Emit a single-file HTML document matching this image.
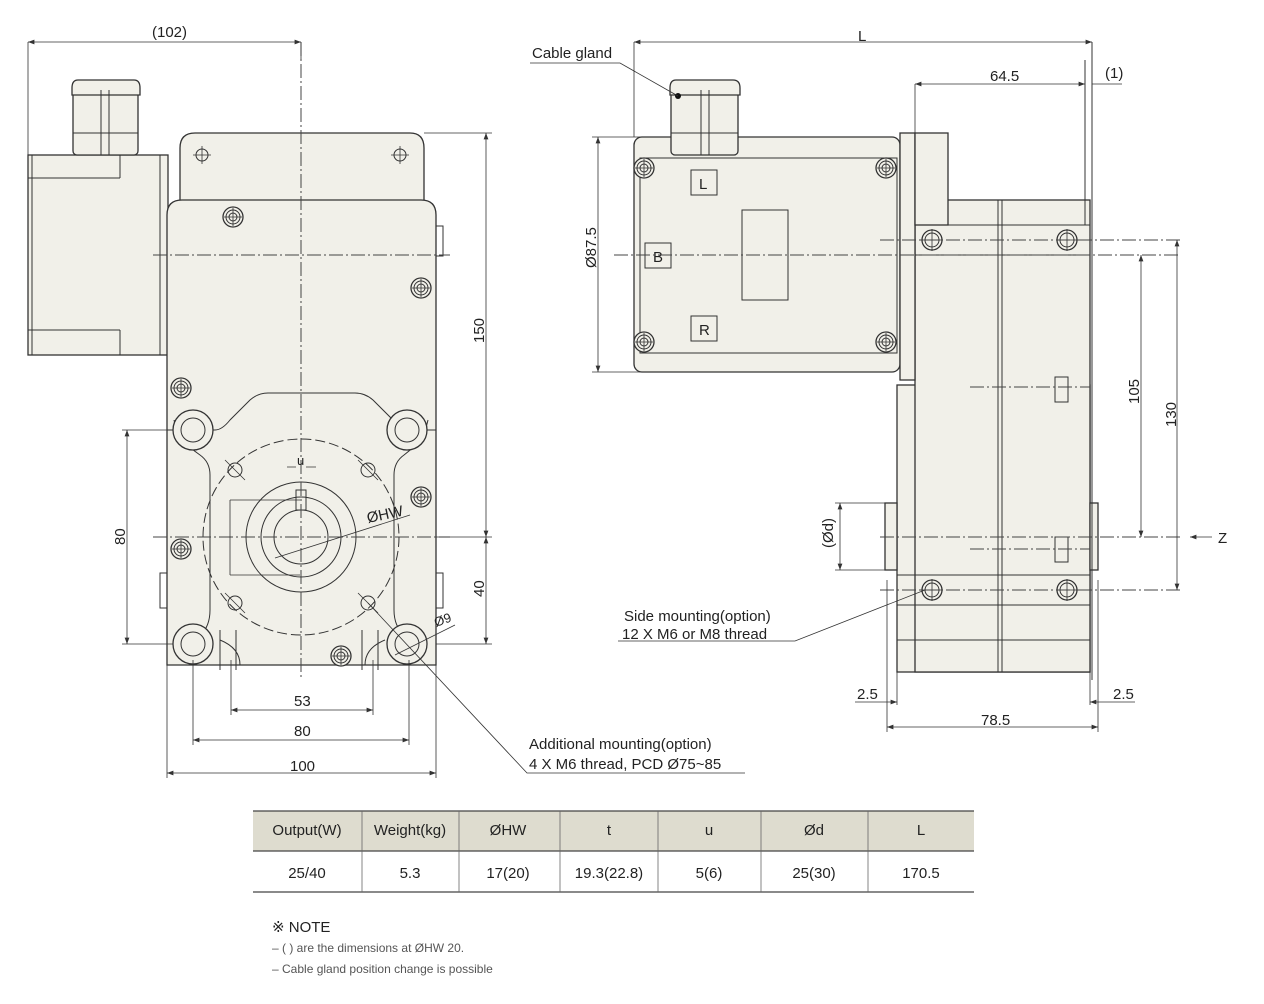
<!DOCTYPE html>
<html><head><meta charset="utf-8"><style>
body{margin:0;background:#fff;}
svg{display:block;font-family:"Liberation Sans",sans-serif;}
.o{fill:#f1f0e9;stroke:#333;stroke-width:1.3}
.l{stroke:#333;stroke-width:1;fill:none}
.c{stroke:#444;stroke-width:1;fill:none;stroke-dasharray:14 3 2 3}
.d{stroke:#333;stroke-width:.8;fill:none}
text{fill:#222;font-size:15px}
.t{font-size:15px}
</style></head><body>
<svg width="1264" height="1004" viewBox="0 0 1264 1004">
<defs>
<marker id="a" markerWidth="8" markerHeight="6" refX="8" refY="3" orient="auto-start-reverse"><path d="M0,0L8,3L0,6z" fill="#333"/></marker>
<g id="bolt"><circle r="10" class="o"/><circle r="7" class="l"/><circle r="4" class="l"/><path d="M-9,0H9M0,-9V9" class="d"/></g>
<g id="mh"><circle r="20" class="o"/><circle r="12" class="l"/></g>
<g id="sh"><circle r="7" class="l"/><path d="M-10,-10L10,10" class="d"/></g>
<g id="rh"><circle r="10" class="o"/><circle r="7" class="l"/><path d="M-11,0H11M0,-11V11" class="d"/></g>
</defs>

<!-- LEFT VIEW -->
<rect x="28" y="155" width="140" height="200" class="o"/>
<path d="M28,178H120M28,330H120M120,155V178M120,330V355M32,155V355M160,155V355" class="l"/>
<rect x="73" y="90" width="65" height="65" rx="4" class="o"/>
<path d="M78,80H134Q140,80 140,88V95H72V88Q72,80 78,80z" class="o"/>
<path d="M73,133H138M101,90V155M109,90V155" class="l"/>
<path d="M180,210V148Q180,133 195,133H410Q424,133 424,148V210z" class="o"/>
<path d="M167,665V215Q167,200 182,200H421Q436,200 436,215V665z" class="o"/>
<path d="M167,430H215Q222,430 230,420L250,400Q258,393 268,393H355Q365,393 373,400L395,422Q402,430 410,430H436" class="l"/>
<path d="M174,420Q178,440 200,455Q210,462 210,475V610Q210,630 195,640M428,420Q424,440 404,455Q394,462 394,475V610Q394,630 410,640" class="l"/>
<path d="M240,665Q240,648 220,640M365,665Q365,648 385,640" class="l"/>
<use href="#mh" x="193" y="430"/><use href="#mh" x="407" y="430"/><use href="#mh" x="193" y="644"/><use href="#mh" x="407" y="644"/>
<use href="#bolt" x="233" y="217"/><use href="#bolt" x="421" y="288"/><use href="#bolt" x="181" y="388"/><use href="#bolt" x="421" y="497"/><use href="#bolt" x="181" y="549"/><use href="#bolt" x="341" y="656"/>
<circle cx="301" cy="537" r="98" class="l" stroke-dasharray="10 4"/>
<circle cx="301" cy="537" r="55" class="l"/>
<circle cx="301" cy="537" r="40" class="l" stroke-width="2"/>
<path d="M274,537A27,27 0 1 0 328,537A27,27 0 1 0 274,537" class="l"/>
<rect x="296" y="490" width="10" height="20" class="l"/>
<use href="#sh" x="235" y="470"/><use href="#sh" x="368" y="470"/><use href="#sh" x="235" y="603"/><use href="#sh" x="368" y="603"/>
<circle cx="202" cy="155" r="6" class="l"/><path d="M193,155H211M202,146V164" class="d"/>
<circle cx="400" cy="155" r="6" class="l"/><path d="M391,155H409M400,146V164" class="d"/>
<rect x="160" y="573" width="7" height="35" class="l"/><rect x="436" y="573" width="7" height="35" class="l"/><rect x="436" y="226" width="7" height="30" class="l"/>
<path d="M301,42V680M153,255H450M153,537H450" class="c"/>
<path d="M220,630v40M236,630v40M362,630v40M378,630v40" class="l"/>
<!-- left dims -->
<path d="M28,42V155M301,42V60" class="d"/><path d="M28,42H301" class="d" marker-start="url(#a)" marker-end="url(#a)"/>
<text x="152" y="37">(102)</text>
<path d="M424,133H492M436,537H492M436,644H492" class="d"/>
<path d="M486,133V537" class="d" marker-start="url(#a)" marker-end="url(#a)"/><path d="M486,537V644" class="d" marker-start="url(#a)" marker-end="url(#a)"/>
<text transform="translate(484,343) rotate(-90)">150</text><text transform="translate(484,597) rotate(-90)">40</text>
<path d="M122,430H173M122,644H173" class="d"/><path d="M127,430V644" class="d" marker-start="url(#a)" marker-end="url(#a)"/>
<text transform="translate(125,545) rotate(-90)">80</text>
<path d="M231,660V715M373,660V715M193,660V745M409,660V745M167,665V778M436,665V778" class="d"/>
<path d="M231,710H373" class="d" marker-start="url(#a)" marker-end="url(#a)"/><text x="294" y="706">53</text>
<path d="M193,740H409" class="d" marker-start="url(#a)" marker-end="url(#a)"/><text x="294" y="736">80</text>
<path d="M167,773H436" class="d" marker-start="url(#a)" marker-end="url(#a)"/><text x="290" y="771">100</text>
<path d="M230,500V575M230,500H300M230,575H300" class="d"/>
<path d="M275,558L410,515" class="d"/><text x="368" y="523" transform="rotate(-12 368 523)">ØHW</text>
<path d="M287,467H296M306,467H316" class="d"/><text x="297" y="465" style="font-size:13px">u</text>
<path d="M395,655L455,625" class="d"/><text x="436" y="627" style="font-size:13px" transform="rotate(-20 436 627)">Ø9</text>
<path d="M368,603L527,773H745" class="d"/>
<text x="529" y="749">Additional mounting(option)</text><text x="529" y="769">4 X M6 thread, PCD Ø75~85</text>

<!-- RIGHT VIEW -->
<rect x="634" y="137" width="266" height="235" rx="8" class="o"/>
<rect x="640" y="158" width="257" height="195" class="l"/>
<rect x="671" y="90" width="67" height="65" rx="4" class="o"/>
<path d="M676,80H733Q740,80 740,88V95H670V88Q670,80 676,80z" class="o"/>
<path d="M671,133H738M701,90V155M709,90V155" class="l"/>
<circle cx="678" cy="96" r="3" fill="#111"/>
<use href="#bolt" x="644" y="168"/><use href="#bolt" x="886" y="168"/><use href="#bolt" x="644" y="342"/><use href="#bolt" x="886" y="342"/>
<rect x="691" y="170" width="26" height="25" class="l"/><text x="699" y="189">L</text>
<rect x="645" y="243" width="26" height="25" class="l"/><text x="653" y="262">B</text>
<rect x="691" y="316" width="26" height="25" class="l"/><text x="699" y="335">R</text>
<rect x="742" y="210" width="46" height="90" class="l" stroke-width="1.6"/>
<rect x="897" y="385" width="193" height="287" class="o"/>
<rect x="915" y="200" width="175" height="472" class="o"/>
<rect x="900" y="133" width="15" height="247" class="o"/>
<rect x="915" y="133" width="33" height="92" class="o"/>
<path d="M915,225H1090M915,255H1090M897,575H1090M897,605H1090M897,640H1090" class="l"/>
<path d="M998,200V672M1002,200V672" class="l"/>
<rect x="885" y="503" width="12" height="67" class="o"/><rect x="1090" y="503" width="8" height="67" class="o"/>
<rect x="1055" y="377" width="13" height="25" class="l"/><rect x="1055" y="537" width="13" height="25" class="l"/>
<use href="#rh" x="932" y="240"/><use href="#rh" x="1067" y="240"/><use href="#rh" x="932" y="590"/><use href="#rh" x="1067" y="590"/>
<path d="M614,255H1180M880,240H1180M880,590H1180M880,537H1180M970,387H1090M970,549H1090" class="c"/>
<path d="M1085,60V225M1092,42V680" class="l"/>
<!-- right dims -->
<path d="M634,42V137" class="d"/><path d="M634,42H1092" class="d" marker-start="url(#a)" marker-end="url(#a)"/><text x="858" y="41">L</text>
<path d="M915,84V133" class="d"/><path d="M915,84H1085" class="d" marker-start="url(#a)" marker-end="url(#a)"/><text x="990" y="81">64.5</text>
<path d="M1092,84H1122" class="d"/><text x="1105" y="78">(1)</text>
<path d="M592,137H640M592,372H640" class="d"/><path d="M598,137V372" class="d" marker-start="url(#a)" marker-end="url(#a)"/>
<text transform="translate(596,268) rotate(-90)">Ø87.5</text>
<path d="M1141,255V537" class="d" marker-start="url(#a)" marker-end="url(#a)"/><text transform="translate(1139,404) rotate(-90)">105</text>
<path d="M1177,240V590" class="d" marker-start="url(#a)" marker-end="url(#a)"/><text transform="translate(1176,427) rotate(-90)">130</text>
<path d="M835,503H885M835,570H885" class="d"/><path d="M840,503V570" class="d" marker-start="url(#a)" marker-end="url(#a)"/>
<text transform="translate(833,548) rotate(-90)">(Ød)</text>
<path d="M1190,537H1212" class="d" marker-start="url(#a)"/><text x="1218" y="543">Z</text>
<path d="M887,580V732M897,672V705M1090,672V705M1098,580V732" class="d"/>
<path d="M855,702H897" class="d" marker-end="url(#a)"/><text x="857" y="699">2.5</text>
<path d="M1090,702H1135" class="d" marker-start="url(#a)"/><text x="1113" y="699">2.5</text>
<path d="M887,727H1098" class="d" marker-start="url(#a)" marker-end="url(#a)"/><text x="981" y="725">78.5</text>
<path d="M530,63H620L678,96" class="d"/><text x="532" y="58">Cable gland</text>
<path d="M618,641H795L925,590" class="d"/>
<text x="624" y="621">Side mounting(option)</text><text x="622" y="639">12 X M6 or M8 thread</text>

<!-- TABLE -->
<rect x="253" y="811" width="721" height="40" fill="#dedccf"/>
<path d="M253,811H974M253,851H974M253,892H974" stroke="#444" stroke-width="1.3"/>
<path d="M362,811V892M459,811V892M560,811V892M658,811V892M761,811V892M868,811V892" stroke="#666" stroke-width=".8"/>
<g style="font-size:15px" text-anchor="middle">
<text x="307" y="835">Output(W)</text><text x="410" y="835">Weight(kg)</text><text x="508" y="835">ØHW</text><text x="609" y="835">t</text><text x="709" y="835">u</text><text x="814" y="835">Ød</text><text x="921" y="835">L</text>
<text x="307" y="878">25/40</text><text x="410" y="878">5.3</text><text x="508" y="878">17(20)</text><text x="609" y="878">19.3(22.8)</text><text x="709" y="878">5(6)</text><text x="814" y="878">25(30)</text><text x="921" y="878">170.5</text>
</g>
<text x="272" y="932" style="font-size:15px">※ NOTE</text>
<text x="272" y="952" style="font-size:12px;fill:#555">– (  ) are the dimensions at ØHW 20.</text>
<text x="272" y="973" style="font-size:12px;fill:#555">– Cable gland position change is possible</text>
</svg>
</body></html>
